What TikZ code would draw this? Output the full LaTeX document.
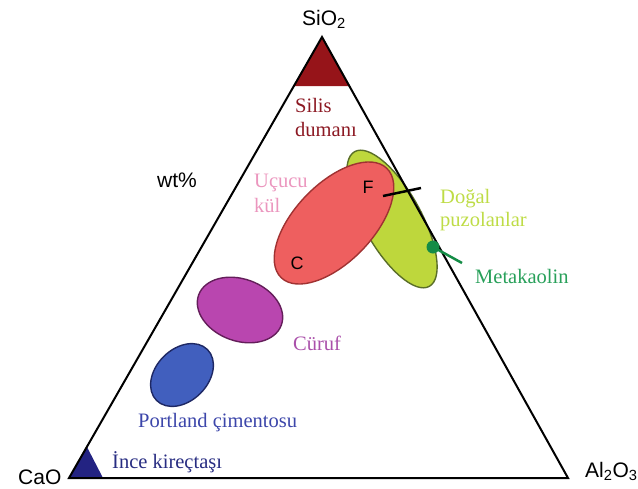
\documentclass[tikz,border=0pt]{standalone}
\usepackage{fontspec}
\setmainfont{Liberation Serif}
\setsansfont{Liberation Sans}
\usetikzlibrary{shapes.geometric}
\definecolor{silisfill}{RGB}{150,20,25}
\definecolor{cafill}{RGB}{35,35,130}
\definecolor{flyfill}{RGB}{238,95,95}
\definecolor{flyline}{RGB}{160,50,50}
\definecolor{pozfill}{RGB}{190,215,60}
\definecolor{pozline}{RGB}{90,110,40}
\definecolor{slagfill}{RGB}{185,70,175}
\definecolor{slagline}{RGB}{100,30,90}
\definecolor{pcfill}{RGB}{65,95,190}
\definecolor{pcline}{RGB}{30,40,100}
\definecolor{siltxt}{RGB}{140,25,35}
\definecolor{flytxt}{RGB}{235,150,190}
\definecolor{poztxt}{RGB}{190,220,70}
\definecolor{mktxt}{RGB}{40,160,90}
\definecolor{mkdot}{RGB}{20,140,70}
\definecolor{slagtxt}{RGB}{170,80,170}
\definecolor{pctxt}{RGB}{60,70,170}
\definecolor{lstxt}{RGB}{40,45,130}
\tikzset{
  lbl/.style={font=\fontsize{20.5}{24}\selectfont, inner sep=0pt, anchor=base west},
  slbl/.style={font=\sffamily\fontsize{21}{24}\selectfont, inner sep=0pt, anchor=base west},
  blob/.style={ellipse, inner sep=0pt, line width=1.4pt},
  edge/.style={line width=2pt, line join=miter},
}
\begin{document}
\begin{tikzpicture}[x=1pt,y=-1pt]
\useasboundingbox (0,0) rectangle (638,488);
% vertices
\coordinate (top) at (322,37);
\coordinate (left) at (69,478);
\coordinate (right) at (568,478);
% regions
\node[blob, fill=pozfill, draw=pozline, minimum width=154pt, minimum height=58pt, rotate=-61] (poz) at (392,219) {};
\node[blob, fill=flyfill, draw=flyline, minimum width=152pt, minimum height=78pt, rotate=46] (fly) at (334,223) {};
\node[blob, fill=slagfill, draw=slagline, minimum width=88pt, minimum height=62pt, rotate=-20] (slag) at (240,310) {};
\node[blob, fill=pcfill, draw=pcline, minimum width=72pt, minimum height=52pt, rotate=45] (pc) at (182,375) {};
% corner triangles
\fill[silisfill] (top) -- (294,86) -- (349,86) -- cycle;
\fill[cafill] (left) -- (87,447) -- (103,478) -- cycle;
% main triangle
\draw[edge] (top) -- (left) -- (right) -- cycle;
% F tick
\coordinate (ftick) at (421,188);
\node[font=\sffamily\fontsize{18}{20}\selectfont, inner sep=0pt] (F) at (368,187) {F};
\node[font=\sffamily\fontsize{18}{20}\selectfont, inner sep=0pt] (C) at (297,263) {C};
\coordinate (fbase) at (383,196);
\draw[line width=2.5pt] (fbase) -- (ftick);
% metakaolin
\node[circle, fill=mkdot, inner sep=0pt, minimum size=13pt] (mk) at (433,247) {};
\coordinate (mkend) at (462,263);
\draw[mkdot, line width=2.5pt] (mk.center) -- (mkend);
% labels
\node[slbl] (sio2) at (302,25) {SiO\textsubscript{2}};
\node[slbl] (cao) at (18,484) {CaO};
\node[slbl] (al2o3) at (585,477) {Al\textsubscript{2}O\textsubscript{3}};
\node[slbl] (wt) at (157,187) {wt\%};
\node[lbl, text=siltxt] (sil1) at (295,112) {Silis};
\node[lbl, text=siltxt] (sil2) at (295,136) {dumanı};
\node[lbl, text=flytxt] (fly1) at (254,187) {Uçucu};
\node[lbl, text=flytxt] (fly2) at (254,212) {kül};
\node[lbl, text=poztxt] (poz1) at (440,203) {Doğal};
\node[lbl, text=poztxt] (poz2) at (440,226) {puzolanlar};
\node[lbl, text=mktxt] (mkl) at (475,283) {Metakaolin};
\node[lbl, text=slagtxt] (slagl) at (293,350) {Cüruf};
\node[lbl, text=pctxt] (pcl) at (138,427) {Portland çimentosu};
\node[lbl, text=lstxt] (lsl) at (112,468) {İnce kireçtaşı};
\end{tikzpicture}
\end{document}
